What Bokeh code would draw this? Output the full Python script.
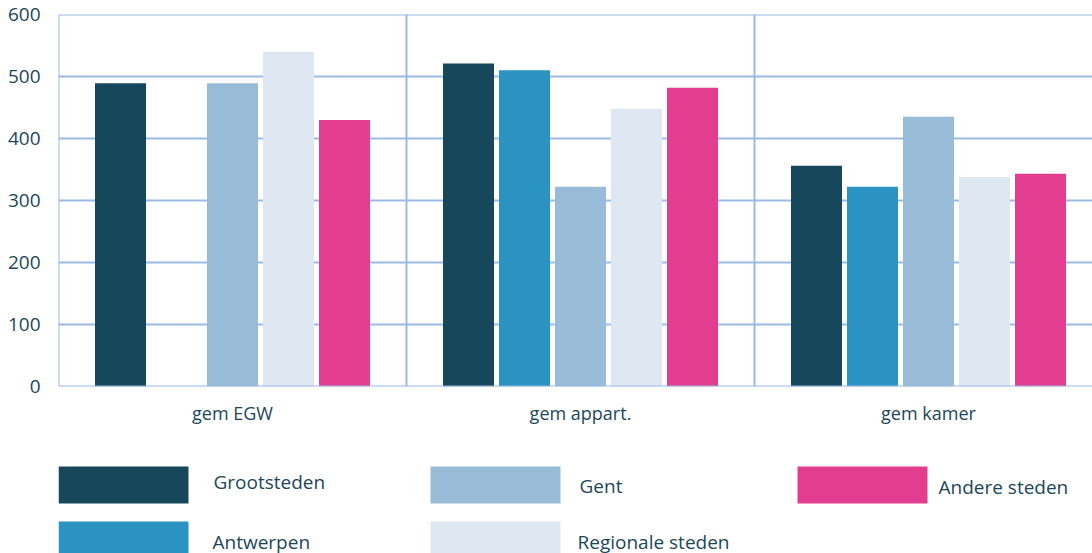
import numpy as np
from bokeh.plotting import figure
from bokeh.layouts import column
from bokeh.models import Range1d, FixedTicker, ColumnDataSource, Span
from bokeh.core.properties import value
from bokeh.embed import file_html
from bokeh.resources import INLINE

categories = ["gem EGW", "gem appart.", "gem kamer"]
series = ["Grootsteden", "Antwerpen", "Gent", "Regionale steden", "Andere steden"]
grootsteden = [489, 521, 356]
antwerpen = [np.nan, 510, 322]
gent = [489, 322, 435]
regionale_steden = [540, 448, 338]
andere_steden = [430, 482, 343]
y_ticks = [0, 100, 200, 300, 400, 500, 600]
colors = ["#16475b", "#2a93c2", "#98bbd8", "#dfe8f2", "#e33d8f"]

values = [grootsteden, antwerpen, gent, regionale_steden, andere_steden]

FONT = "Open Sans"
TXT = "#1c4758"
GRID = "#9bbbe4"

W = 1092
TOP_H = 430
LEFT = 58
cat_px = 348.0

p = figure(width=W, height=TOP_H, output_backend="svg", toolbar_location=None,
           x_range=Range1d(0, (W - LEFT) / cat_px), y_range=Range1d(0, 600),
           min_border_left=LEFT, min_border_right=0, min_border_top=14,
           min_border_bottom=TOP_H - 386)
p.outline_line_color = None
p.background_fill_color = "white"
p.border_fill_color = "white"

slot = 56.0 / cat_px
bw = 51.0 / cat_px
for j, (name, vals, col) in enumerate(zip(series, values, colors)):
    xs = [i + 0.5 + (j - 2) * slot for i in range(len(categories))]
    src = ColumnDataSource(dict(x=xs, top=vals))
    p.vbar(x="x", top="top", bottom=0, width=bw, source=src, fill_color=col, line_color=None)

p.xaxis.ticker = FixedTicker(ticks=[i + 0.5 for i in range(len(categories))])
p.xaxis.major_label_overrides = {i + 0.5: c for i, c in enumerate(categories)}
p.xaxis.axis_line_color = None
p.xaxis.major_tick_line_color = None
p.xaxis.minor_tick_line_color = None
p.xaxis.major_label_text_font = FONT
p.xaxis.major_label_text_font_size = "18px"
p.xaxis.major_label_text_color = TXT
p.xaxis.major_label_standoff = 8

p.yaxis.ticker = FixedTicker(ticks=y_ticks)
p.yaxis.axis_line_color = None
p.yaxis.major_tick_line_color = None
p.yaxis.minor_tick_line_color = None
p.yaxis.major_label_text_font = FONT
p.yaxis.major_label_text_font_size = "19px"
p.yaxis.major_label_text_color = TXT
p.yaxis.major_label_text_baseline = "top"
p.yaxis.major_label_standoff = 12

p.xgrid.ticker = FixedTicker(ticks=list(range(len(categories) + 1)))
p.xgrid.grid_line_color = GRID
p.xgrid.grid_line_width = 2
p.ygrid.grid_line_color = GRID
p.ygrid.grid_line_width = 2
for loc, dim in [(0, "width"), (600, "width"), (0, "height")]:
    p.add_layout(Span(location=loc, dimension=dim, line_color=GRID, line_width=2))

# legend figure (page-pixel coordinates)
LH = 553 - TOP_H
lg = figure(width=W, height=LH, output_backend="svg", toolbar_location=None,
            x_range=Range1d(LEFT, W), y_range=Range1d(553, TOP_H),
            min_border=0, min_border_left=LEFT, outline_line_color=None)
lg.axis.visible = False
lg.grid.visible = False
box_left = [58, 58, 430, 430, 797]
box_top = [466, 521, 466, 521, 466]
text_x = [213, 212, 579, 577, 938]
text_y = [481, 541, 485, 541, 486]
lsrc = ColumnDataSource(dict(left=box_left, right=[b + 130 for b in box_left],
                             top=box_top, bottom=[t + 37 for t in box_top],
                             color=colors, tx=text_x, ty=text_y, label=series))
lg.quad(left="left", right="right", top="top", bottom="bottom", fill_color="color",
        line_color=None, source=lsrc)
lg.text(x="tx", y="ty", text="label", source=lsrc, text_font=value(FONT),
        text_font_size="19px", text_color=TXT, text_baseline="middle", text_align="left")

layout = column(p, lg, spacing=0)
open("out.html", "w").write(file_html(layout, INLINE))
